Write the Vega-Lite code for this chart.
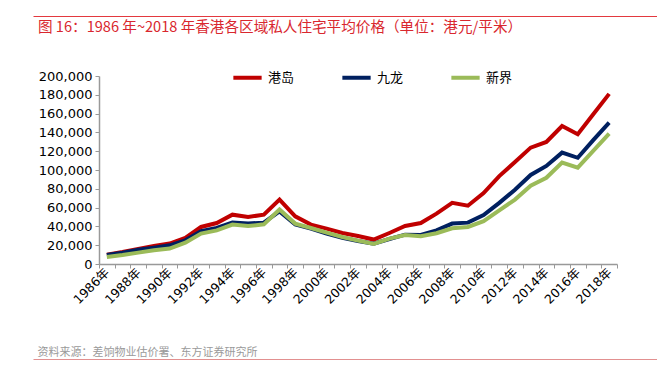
{
  "$schema": "https://vega.github.io/schema/vega-lite/v6.json",
  "width": 518,
  "height": 188,
  "autosize": "none",
  "padding": {"left": 99, "top": 76, "right": 40, "bottom": 108},
  "background": "white",
  "config": {
    "view": {"stroke": null},
    "font": "DejaVu Sans, Noto Sans CJK SC"
  },
  "title": {
    "text": "图 16：1986 年~2018 年香港各区域私人住宅平均价格（单位：港元/平米）",
    "anchor": "start",
    "frame": "group",
    "dx": -61,
    "dy": 19,
    "offset": 0,
    "font": "Noto Sans CJK SC",
    "fontSize": 14.6,
    "fontWeight": "normal",
    "color": "#d9272e"
  },
  "data": {
    "values": [
      {"year": 1986, "region": "港岛", "value": 10000}, {"year": 1986, "region": "九龙", "value": 9500}, {"year": 1986, "region": "新界", "value": 7500},
      {"year": 1987, "region": "港岛", "value": 12800}, {"year": 1987, "region": "九龙", "value": 12100}, {"year": 1987, "region": "新界", "value": 9600},
      {"year": 1988, "region": "港岛", "value": 16000}, {"year": 1988, "region": "九龙", "value": 15200}, {"year": 1988, "region": "新界", "value": 12100},
      {"year": 1989, "region": "港岛", "value": 19200}, {"year": 1989, "region": "九龙", "value": 17400}, {"year": 1989, "region": "新界", "value": 14600},
      {"year": 1990, "region": "港岛", "value": 21700}, {"year": 1990, "region": "九龙", "value": 19900}, {"year": 1990, "region": "新界", "value": 16400},
      {"year": 1991, "region": "港岛", "value": 27700}, {"year": 1991, "region": "九龙", "value": 25200}, {"year": 1991, "region": "新界", "value": 22700},
      {"year": 1992, "region": "港岛", "value": 39400}, {"year": 1992, "region": "九龙", "value": 35000}, {"year": 1992, "region": "新界", "value": 32300},
      {"year": 1993, "region": "港岛", "value": 43600}, {"year": 1993, "region": "九龙", "value": 38300}, {"year": 1993, "region": "新界", "value": 35800},
      {"year": 1994, "region": "港岛", "value": 52500}, {"year": 1994, "region": "九龙", "value": 44000}, {"year": 1994, "region": "新界", "value": 42000},
      {"year": 1995, "region": "港岛", "value": 50000}, {"year": 1995, "region": "九龙", "value": 43000}, {"year": 1995, "region": "新界", "value": 40400},
      {"year": 1996, "region": "港岛", "value": 52500}, {"year": 1996, "region": "九龙", "value": 44000}, {"year": 1996, "region": "新界", "value": 42200},
      {"year": 1997, "region": "港岛", "value": 68500}, {"year": 1997, "region": "九龙", "value": 56000}, {"year": 1997, "region": "新界", "value": 58000},
      {"year": 1998, "region": "港岛", "value": 50700}, {"year": 1998, "region": "九龙", "value": 42200}, {"year": 1998, "region": "新界", "value": 43000},
      {"year": 1999, "region": "港岛", "value": 41900}, {"year": 1999, "region": "九龙", "value": 37600}, {"year": 1999, "region": "新界", "value": 38300},
      {"year": 2000, "region": "港岛", "value": 37600}, {"year": 2000, "region": "九龙", "value": 32300}, {"year": 2000, "region": "新界", "value": 33400},
      {"year": 2001, "region": "港岛", "value": 33000}, {"year": 2001, "region": "九龙", "value": 28000}, {"year": 2001, "region": "新界", "value": 28700},
      {"year": 2002, "region": "港岛", "value": 29800}, {"year": 2002, "region": "九龙", "value": 24500}, {"year": 2002, "region": "新界", "value": 24900},
      {"year": 2003, "region": "港岛", "value": 26000}, {"year": 2003, "region": "九龙", "value": 21700}, {"year": 2003, "region": "新界", "value": 21300},
      {"year": 2004, "region": "港岛", "value": 33000}, {"year": 2004, "region": "九龙", "value": 26600}, {"year": 2004, "region": "新界", "value": 27000},
      {"year": 2005, "region": "港岛", "value": 40400}, {"year": 2005, "region": "九龙", "value": 31200}, {"year": 2005, "region": "新界", "value": 30900},
      {"year": 2006, "region": "港岛", "value": 43600}, {"year": 2006, "region": "九龙", "value": 30900}, {"year": 2006, "region": "新界", "value": 29500},
      {"year": 2007, "region": "港岛", "value": 53600}, {"year": 2007, "region": "九龙", "value": 35800}, {"year": 2007, "region": "新界", "value": 32700},
      {"year": 2008, "region": "港岛", "value": 65000}, {"year": 2008, "region": "九龙", "value": 43000}, {"year": 2008, "region": "新界", "value": 38000},
      {"year": 2009, "region": "港岛", "value": 62000}, {"year": 2009, "region": "九龙", "value": 44000}, {"year": 2009, "region": "新界", "value": 39400},
      {"year": 2010, "region": "港岛", "value": 75500}, {"year": 2010, "region": "九龙", "value": 52000}, {"year": 2010, "region": "新界", "value": 45500},
      {"year": 2011, "region": "港岛", "value": 93500}, {"year": 2011, "region": "九龙", "value": 65000}, {"year": 2011, "region": "新界", "value": 57000},
      {"year": 2012, "region": "港岛", "value": 108500}, {"year": 2012, "region": "九龙", "value": 79000}, {"year": 2012, "region": "新界", "value": 68500},
      {"year": 2013, "region": "港岛", "value": 123800}, {"year": 2013, "region": "九龙", "value": 94700}, {"year": 2013, "region": "新界", "value": 83200},
      {"year": 2014, "region": "港岛", "value": 129800}, {"year": 2014, "region": "九龙", "value": 104300}, {"year": 2014, "region": "新界", "value": 91700},
      {"year": 2015, "region": "港岛", "value": 146800}, {"year": 2015, "region": "九龙", "value": 118500}, {"year": 2015, "region": "新界", "value": 108000},
      {"year": 2016, "region": "港岛", "value": 138000}, {"year": 2016, "region": "九龙", "value": 113000}, {"year": 2016, "region": "新界", "value": 102500},
      {"year": 2017, "region": "港岛", "value": 159500}, {"year": 2017, "region": "九龙", "value": 132000}, {"year": 2017, "region": "新界", "value": 120500},
      {"year": 2018, "region": "港岛", "value": 181000}, {"year": 2018, "region": "九龙", "value": 150400}, {"year": 2018, "region": "新界", "value": 138700}
    ]
  },
  "layer": [
    {
      "mark": {"type": "line", "strokeWidth": 4},
      "encoding": {
        "x": {
          "field": "year",
          "type": "ordinal",
          "scale": {"type": "band", "paddingInner": 0, "paddingOuter": 0},
          "axis": {
            "orient": "bottom",
            "labelExpr": "datum.value % 2 == 0 ? datum.value + '年' : ''",
            "labelAngle": -45,
            "labelAlign": "right",
            "labelBaseline": "middle",
            "labelOverlap": false,
            "labelFontSize": 12.5,
            "labelColor": "#000000",
            "labelPadding": 2,
            "tickBand": "extent",
            "tickSize": 4,
            "tickColor": "#999999",
            "domainColor": "#999999",
            "domainWidth": 1.5,
            "title": "资料来源：差饷物业估价署、东方证券研究所",
            "titleFont": "Noto Sans CJK SC",
            "titleFontSize": 11,
            "titleFontWeight": "normal",
            "titleColor": "#9a9a9a",
            "titleAnchor": "start",
            "titleAlign": "left",
            "titleBaseline": "alphabetic",
            "titleX": -62,
            "titleY": 91
          }
        },
        "y": {
          "field": "value",
          "type": "quantitative",
          "scale": {"domain": [0, 200000]},
          "axis": {
            "values": [0, 20000, 40000, 60000, 80000, 100000, 120000, 140000, 160000, 180000, 200000],
            "format": ",d",
            "grid": false,
            "title": null,
            "labelFontSize": 13,
            "labelColor": "#000000",
            "labelPadding": 3,
            "tickSize": 4,
            "tickColor": "#999999",
            "domainColor": "#999999",
            "domainWidth": 1.5
          }
        },
        "color": {
          "field": "region",
          "type": "nominal",
          "scale": {"domain": ["港岛", "九龙", "新界"], "range": ["#c00000", "#002060", "#9bbb59"]},
          "legend": {
            "title": null,
            "orient": "none",
            "direction": "horizontal",
            "legendX": 132,
            "legendY": -15,
            "symbolType": "stroke",
            "symbolSize": 800,
            "symbolStrokeWidth": 4,
            "labelFont": "Noto Sans CJK SC",
            "labelFontSize": 13,
            "labelColor": "#000000",
            "labelOffset": 4,
            "columnPadding": 39
          }
        }
      }
    },
    {
      "mark": {"type": "rule", "strokeOpacity": 0},
      "encoding": {
        "x": {
          "field": "year",
          "type": "quantitative",
          "scale": {"domain": [1986, 2018], "range": [-66, 558], "nice": false, "zero": false},
          "axis": {"orient": "top", "offset": 60, "domainColor": "#e3393f", "domainWidth": 1, "labels": false, "ticks": false, "grid": false, "title": null}
        }
      }
    },
    {
      "mark": {"type": "rule", "strokeOpacity": 0},
      "encoding": {
        "x": {
          "field": "year",
          "type": "quantitative",
          "scale": {"domain": [1986, 2018], "range": [-66, 558], "nice": false, "zero": false},
          "axis": {"orient": "bottom", "offset": 95, "domainColor": "#e29090", "domainWidth": 1, "labels": false, "ticks": false, "grid": false, "title": null}
        }
      }
    }
  ],
  "resolve": {"scale": {"x": "independent"}, "axis": {"x": "independent"}}
}
